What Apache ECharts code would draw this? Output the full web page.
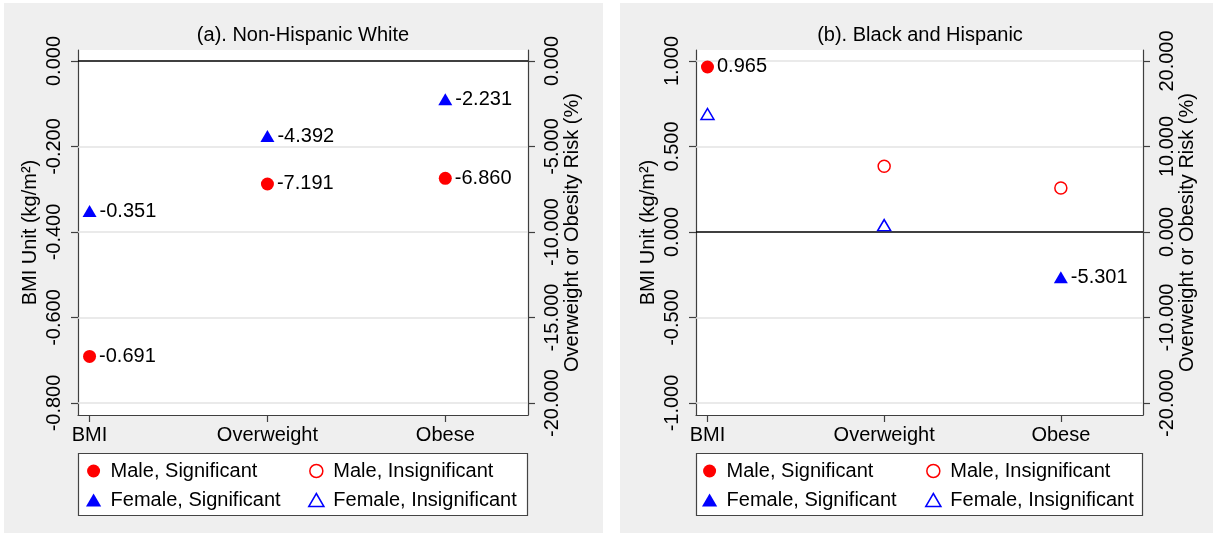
<!DOCTYPE html>
<html>
<head>
<meta charset="utf-8">
<script src="https://cdn.jsdelivr.net/npm/echarts@6/dist/echarts.min.js"></script>
<style>
  html, body { margin: 0; padding: 0; background: #fff; }
  #chart { width: 1215px; height: 535px; }
</style>
</head>
<body>
<div id="chart"></div>
<script>
// Outcomes along the horizontal axis
const outcomes = ['BMI', 'Overweight', 'Obese'];

// Panel (a): Non-Hispanic White — BMI in kg/m², risks in %
const whiteMale = [-0.691, -7.191, -6.860];
const whiteMaleSig = [true, true, true];
const whiteFemale = [-0.351, -4.392, -2.231];
const whiteFemaleSig = [true, true, true];

// Panel (b): Black and Hispanic
const minorityMale = [0.965, 7.70, 5.15];
const minorityMaleSig = [true, false, false];
const minorityFemale = [0.690, 0.80, -5.301];
const minorityFemaleSig = [false, false, true];

// Tick values for each axis
const ticksLeftA = [0, -0.2, -0.4, -0.6, -0.8];
const ticksRightA = [0, -5, -10, -15, -20];
const ticksLeftB = [1, 0.5, 0, -0.5, -1];
const ticksRightB = [20, 10, 0, -10, -20];

const legendNames = ['Male, Significant', 'Male, Insignificant', 'Female, Significant', 'Female, Insignificant'];

const FONT = 'Liberation Sans, Arial, sans-serif';
const RED = '#ff0000';
const BLUE = '#0000ff';
const AXIS = '#3f3f3f';
// Equilateral-ish triangle outline, so legend icons keep their proportions
const TRIANGLE = 'path://M7,0L14,12L0,12Z';

function markerStyle(sex, sig) {
  const color = sex === 'male' ? RED : BLUE;
  const isCircle = sex === 'male';
  if (sig) {
    return {
      symbol: isCircle ? 'circle' : TRIANGLE,
      symbolSize: isCircle ? 13 : [14, 12],
      itemStyle: { color: color, borderWidth: 0, opacity: 1 }
    };
  }
  return {
    symbol: isCircle ? 'circle' : TRIANGLE,
    symbolSize: isCircle ? 12 : [13, 11],
    itemStyle: { color: '#ffffff', borderColor: color, borderWidth: 1.5, opacity: 1 }
  };
}

// Two scatter series per group: BMI on the left axis, risks on the right axis
function groupSeries(name, sex, wantSig, values, sigFlags, xIdx, leftIdx, rightIdx) {
  const st = markerStyle(sex, wantSig);
  const left = [];
  const right = [];
  values.forEach(function (v, i) {
    if (sigFlags[i] !== wantSig) return;
    if (i === 0) left.push([i, v]); else right.push([i, v]);
  });
  const label = {
    show: wantSig,
    position: 'right',
    distance: 3,
    fontSize: 20,
    fontFamily: FONT,
    color: '#000',
    opacity: 1,
    formatter: function (p) { return p.value[1].toFixed(3); }
  };
  const base = {
    type: 'scatter', name: name, xAxisIndex: xIdx,
    symbol: st.symbol, symbolSize: st.symbolSize, itemStyle: st.itemStyle,
    label: label, z: 5, emphasis: { disabled: true }
  };
  return [
    Object.assign({}, base, { yAxisIndex: leftIdx, data: left }),
    Object.assign({}, base, { yAxisIndex: rightIdx, data: right })
  ];
}

// Gridlines and the zero reference line of one panel
function refLines(xIdx, yIdx, ticks) {
  return {
    type: 'line', name: 'ref' + xIdx, xAxisIndex: xIdx, yAxisIndex: yIdx,
    data: [], silent: true, z: 1,
    markLine: {
      silent: true, symbol: 'none', label: { show: false }, animation: false,
      data: ticks.filter(function (t) { return t !== 0; }).map(function (t) {
        return { yAxis: t, lineStyle: { color: '#e3e3e3', width: 1.5, type: 'solid' } };
      }).concat([{ yAxis: 0, lineStyle: { color: '#000', width: 1.5, type: 'solid' } }])
    }
  };
}

function xAxisDef(gridIndex) {
  return {
    gridIndex: gridIndex, type: 'value', min: -0.065, max: 2.465, z: 3,
    axisLine: { show: true, onZero: false, lineStyle: { color: AXIS, width: 1.2 } },
    axisTick: { show: true, length: 7, customValues: [0, 1, 2], lineStyle: { color: AXIS, width: 1.2 } },
    axisLabel: {
      customValues: [0, 1, 2], margin: 10, fontSize: 20, fontFamily: FONT, color: '#000',
      formatter: function (v) { return outcomes[Math.round(v)]; }
    },
    splitLine: { show: false }
  };
}

function yAxisDef(gridIndex, position, min, max, ticks, name, nameGap) {
  return {
    gridIndex: gridIndex, type: 'value', position: position, min: min, max: max, z: 3,
    name: name, nameLocation: 'middle', nameRotate: 90, nameGap: nameGap,
    nameTextStyle: { fontSize: 20, fontFamily: FONT, color: '#000' },
    axisLine: { show: true, onZero: false, lineStyle: { color: AXIS, width: 1.2 } },
    axisTick: { show: true, length: 7, customValues: ticks, lineStyle: { color: AXIS, width: 1.2 } },
    axisLabel: {
      customValues: ticks, rotate: 90, margin: 14, fontSize: 20, fontFamily: FONT, color: '#000',
      formatter: function (v) { return v.toFixed(3); }
    },
    splitLine: { show: false }
  };
}

function legendCol(names, left, hollow) {
  return {
    data: names, orient: 'vertical', left: left, top: 461, padding: 0,
    itemWidth: 24, itemHeight: 13, itemGap: 9, z: 6, selectedMode: false,
    symbolKeepAspect: true,
    itemStyle: { borderWidth: hollow ? 1.5 : 0, opacity: 1 },
    textStyle: { fontSize: 20, fontFamily: FONT, color: '#000' }
  };
}

const series = [].concat(
  refLines(0, 0, ticksLeftA),
  refLines(1, 2, ticksLeftB),
  groupSeries('Male, Significant', 'male', true, whiteMale, whiteMaleSig, 0, 0, 1),
  groupSeries('Male, Insignificant', 'male', false, whiteMale, whiteMaleSig, 0, 0, 1),
  groupSeries('Female, Significant', 'female', true, whiteFemale, whiteFemaleSig, 0, 0, 1),
  groupSeries('Female, Insignificant', 'female', false, whiteFemale, whiteFemaleSig, 0, 0, 1),
  groupSeries('Male, Significant', 'male', true, minorityMale, minorityMaleSig, 1, 2, 3),
  groupSeries('Male, Insignificant', 'male', false, minorityMale, minorityMaleSig, 1, 2, 3),
  groupSeries('Female, Significant', 'female', true, minorityFemale, minorityFemaleSig, 1, 2, 3),
  groupSeries('Female, Insignificant', 'female', false, minorityFemale, minorityFemaleSig, 1, 2, 3)
);

const option = {
  animation: false,
  backgroundColor: '#ffffff',
  textStyle: { fontFamily: FONT },
  graphic: {
    elements: [
      { type: 'rect', z: 0, silent: true, shape: { x: 4, y: 3, width: 599, height: 530 }, style: { fill: '#efefef' } },
      { type: 'rect', z: 0, silent: true, shape: { x: 620, y: 3, width: 593, height: 530 }, style: { fill: '#efefef' } },
      { type: 'rect', z: 1, silent: true, shape: { x: 78.5, y: 453.5, width: 449, height: 62 }, style: { fill: '#fff', stroke: '#444', lineWidth: 1.2 } },
      { type: 'rect', z: 1, silent: true, shape: { x: 696.5, y: 453.5, width: 446, height: 62 }, style: { fill: '#fff', stroke: '#444', lineWidth: 1.2 } }
    ]
  },
  title: [
    { text: '(a). Non-Hispanic White', left: 298, top: 20, textAlign: 'center', z: 6,
      textStyle: { fontSize: 20, fontWeight: 'normal', fontFamily: FONT, color: '#000' } },
    { text: '(b). Black and Hispanic', left: 915, top: 20, textAlign: 'center', z: 6,
      textStyle: { fontSize: 20, fontWeight: 'normal', fontFamily: FONT, color: '#000' } }
  ],
  legend: [
    legendCol([legendNames[0], legendNames[2]], 86, false),
    legendCol([legendNames[1], legendNames[3]], 308, true),
    legendCol([legendNames[0], legendNames[2]], 702, false),
    legendCol([legendNames[1], legendNames[3]], 925, true)
  ],
  grid: [
    { left: 78, top: 50, width: 450, height: 365, show: true, backgroundColor: '#ffffff', borderWidth: 0, z: 2 },
    { left: 696, top: 50, width: 447, height: 365, show: true, backgroundColor: '#ffffff', borderWidth: 0, z: 2 }
  ],
  xAxis: [xAxisDef(0), xAxisDef(1)],
  yAxis: [
    yAxisDef(0, 'left', -0.8281, 0.0257, ticksLeftA, 'BMI Unit (kg/m²)', 38),
    yAxisDef(0, 'right', -20.70, 0.643, ticksRightA, 'Overweight or Obesity Risk (%)', 32),
    yAxisDef(1, 'left', -1.0702, 1.0643, ticksLeftB, 'BMI Unit (kg/m²)', 38),
    yAxisDef(1, 'right', -21.404, 21.287, ticksRightB, 'Overweight or Obesity Risk (%)', 32)
  ],
  series: series
};

const chart = echarts.init(document.getElementById('chart'), null, { renderer: 'canvas' });
chart.setOption(option);
</script>
</body>
</html>
